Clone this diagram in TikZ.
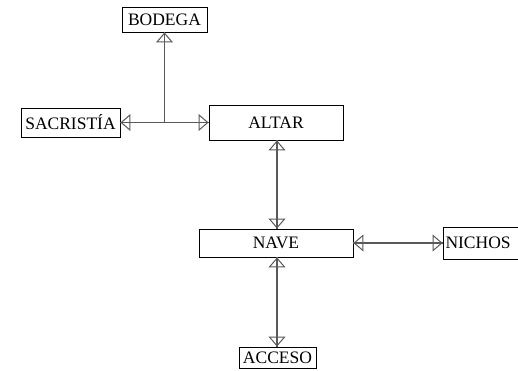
\documentclass[tikz,border=0pt]{standalone}
\usepackage{fontspec}
\setmainfont{Liberation Serif}
\usetikzlibrary{arrows.meta}
\begin{document}
\begin{tikzpicture}[x=1pt,y=-1pt,
  room/.style={draw=black,line width=0.9pt,fill=white,inner sep=0pt,
    font=\fontsize{17.5}{19}\selectfont,minimum width=#1},
  link/.style={draw=black!65,line width=1.3pt},
  tip/.style={link,{Triangle[open,length=10pt,width=17pt,line width=1pt]}-{Triangle[open,length=10pt,width=17pt,line width=1pt]}},
  tipstart/.style={link,{Triangle[open,length=10pt,width=17pt,line width=1pt]}-},
]
\useasboundingbox (0,0) rectangle (518,370);

% rooms
\node[room=85pt,minimum height=25pt]  (bodega)  at (164.5,19.5) {BODEGA};
\node[room=99pt,minimum height=29pt]  (sacr)    at (70.5,122.5) {SACRISTÍA};
\node[room=134pt,minimum height=35pt] (altar)   at (276,122.5)  {ALTAR};
\node[room=154pt,minimum height=28pt] (nave)    at (276,243)    {NAVE};
\node[room=88pt,minimum height=32pt,text width=83pt,align=left] (nichos) at (487,243) {NICHOS};
\node[room=77pt,minimum height=21pt]  (acceso)  at (277.5,357.5) {ACCESO};

% junction where the store room meets the sacristy--altar passage
\coordinate (j) at (bodega.south |- sacr.east);

% connectors (plain line first, so it runs through the open heads)
\draw[link] (sacr.east) -- (altar.west);
\draw[tip]  (sacr.east) -- (altar.west);
\draw[link] (bodega.south) -- (j);
\draw[tipstart] (bodega.south) -- (j);

\draw[link] (altar.south -| nave.north) ++(1,0) coordinate (a1) -- (nave.north -| a1);
\draw[tip]  (a1) -- (nave.north -| a1);

\draw[link] (nave.east) -- (nichos.west);
\draw[tip]  (nave.east) -- (nichos.west);

\draw[link] (nave.south -| a1) -- (acceso.north -| a1);
\draw[tip]  (nave.south -| a1) -- (acceso.north -| a1);
\end{tikzpicture}
\end{document}
